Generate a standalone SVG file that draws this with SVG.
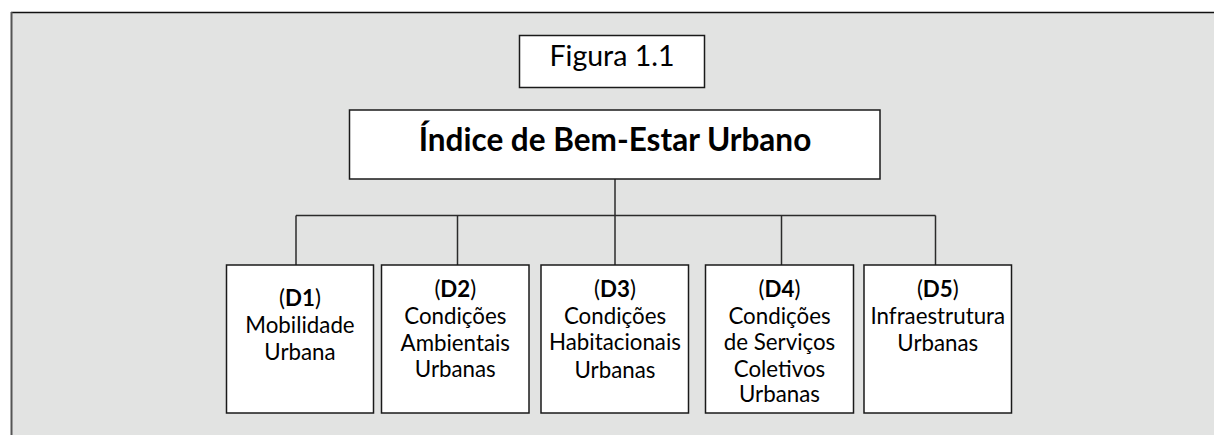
<svg xmlns="http://www.w3.org/2000/svg" width="1214" height="435" viewBox="0 0 1214 435">
  <style>
    .box { fill: #ffffff; stroke: #1a1a1a; stroke-width: 1.5; }
    .t { font-family: Lato, "Open Sans", "Liberation Sans", sans-serif; fill: #000; text-anchor: middle; }
    .lbl { font-size: 22.3px; }
    .conn { fill: none; stroke: #2b2b2b; stroke-width: 1.5; }
  </style>
  <rect x="0" y="0" width="1214" height="435" fill="#ffffff"/>
  <rect x="11" y="12.5" width="1220" height="440" fill="#e2e3e2" stroke="none"/>
  <line x1="11" y1="12.5" x2="1214" y2="12.5" stroke="#111" stroke-width="1.5"/>
  <line x1="11.5" y1="12" x2="11.5" y2="435" stroke="#555" stroke-width="2"/>

  <g id="connectors">
    <line class="conn" x1="615" y1="179" x2="615" y2="215.5"/>
    <line class="conn" x1="296" y1="215.5" x2="935.5" y2="215.5"/>
    <line class="conn" x1="296" y1="215.5" x2="296" y2="265"/>
    <line class="conn" x1="457.5" y1="215.5" x2="457.5" y2="265"/>
    <line class="conn" x1="615" y1="215.5" x2="615" y2="265"/>
    <line class="conn" x1="781.5" y1="215.5" x2="781.5" y2="265"/>
    <line class="conn" x1="935.5" y1="215.5" x2="935.5" y2="265"/>
  </g>

  <g id="figura">
    <rect class="box" x="519.5" y="35.5" width="185" height="52"/>
    <text class="t" x="612" y="66" font-size="28.5">Figura 1.1</text>
  </g>

  <g id="indice">
    <rect class="box" x="349.5" y="110" width="530.5" height="69"/>
    <text class="t" x="615" y="151" font-size="31.5" font-weight="bold">Índice de Bem-Estar Urbano</text>
  </g>

  <g id="d1">
    <rect class="box" x="226.5" y="265" width="147" height="148"/>
    <text class="t lbl" x="300" y="306">(<tspan font-weight="bold">D1</tspan>)</text>
    <text class="t lbl" x="300" y="333">Mobilidade</text>
    <text class="t lbl" x="300" y="360">Urbana</text>
  </g>

  <g id="d2">
    <rect class="box" x="381.5" y="265" width="147.5" height="148"/>
    <text class="t lbl" x="455.3" y="297">(<tspan font-weight="bold">D2</tspan>)</text>
    <text class="t lbl" x="455.3" y="324">Condições</text>
    <text class="t lbl" x="455.3" y="350.5">Ambientais</text>
    <text class="t lbl" x="455.3" y="377">Urbanas</text>
  </g>

  <g id="d3">
    <rect class="box" x="541" y="265" width="147.5" height="148"/>
    <text class="t lbl" x="615" y="297">(<tspan font-weight="bold">D3</tspan>)</text>
    <text class="t lbl" x="615" y="323.5">Condições</text>
    <text class="t lbl" x="615" y="350">Habitacionais</text>
    <text class="t lbl" x="615" y="377.5">Urbanas</text>
  </g>

  <g id="d4">
    <rect class="box" x="705.5" y="265" width="148" height="148"/>
    <text class="t lbl" x="779.5" y="297">(<tspan font-weight="bold">D4</tspan>)</text>
    <text class="t lbl" x="779.5" y="323.5">Condições</text>
    <text class="t lbl" x="779.5" y="350">de Serviços</text>
    <text class="t lbl" x="779.5" y="376.5">Coletivos</text>
    <text class="t lbl" x="779.5" y="402">Urbanas</text>
  </g>

  <g id="d5">
    <rect class="box" x="864" y="265" width="147.5" height="148"/>
    <text class="t lbl" x="937.8" y="297">(<tspan font-weight="bold">D5</tspan>)</text>
    <text class="t lbl" x="937.8" y="323.5">Infraestrutura</text>
    <text class="t lbl" x="937.8" y="350.5">Urbanas</text>
  </g>
</svg>
